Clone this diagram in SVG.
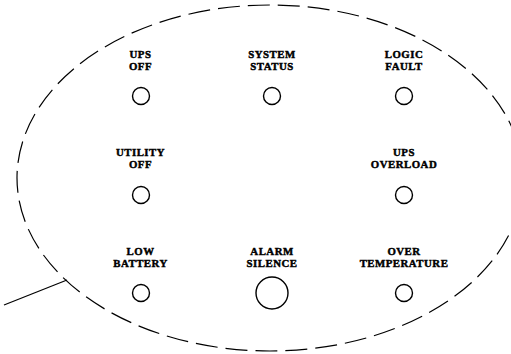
<svg xmlns="http://www.w3.org/2000/svg" width="511" height="354" viewBox="0 0 511 354">
<style>
.lbl{font-family:"Liberation Serif","Times New Roman",serif;font-weight:bold;font-size:10.8px;letter-spacing:0.5px;fill:#000;stroke:#000;stroke-width:0.45;text-anchor:middle}
.led{fill:none;stroke:#000;stroke-width:1.4}
.outline{fill:none;stroke:#000;stroke-width:1.2}
</style>
<rect width="511" height="354" fill="#fff"/>
<g id="connectors">
<ellipse class="outline" cx="270" cy="178" rx="253" ry="173" stroke-dasharray="22 8"/>
<line class="outline" x1="67" y1="280" x2="4" y2="305"/>
</g>
<g id="ups-off"><text class="lbl" x="140.5" y="57.5">UPS<tspan x="140.5" dy="12">OFF</tspan></text><circle class="led" cx="141" cy="96" r="8.5"/></g>
<g id="system-status"><text class="lbl" x="272" y="57.5">SYSTEM<tspan x="272" dy="12">STATUS</tspan></text><circle class="led" cx="272" cy="96" r="8.5"/></g>
<g id="logic-fault"><text class="lbl" x="404" y="57.5">LOGIC<tspan x="404" dy="12">FAULT</tspan></text><circle class="led" cx="404" cy="96" r="8.5"/></g>
<g id="utility-off"><text class="lbl" x="140.5" y="156">UTILITY<tspan x="140.5" dy="12">OFF</tspan></text><circle class="led" cx="141" cy="195" r="8.5"/></g>
<g id="ups-overload"><text class="lbl" x="404" y="156">UPS<tspan x="404" dy="12">OVERLOAD</tspan></text><circle class="led" cx="404" cy="195" r="8.5"/></g>
<g id="low-battery"><text class="lbl" x="140.5" y="254.5">LOW<tspan x="140.5" dy="12">BATTERY</tspan></text><circle class="led" cx="141" cy="293" r="8.5"/></g>
<g id="alarm-silence"><text class="lbl" x="272" y="254.5">ALARM<tspan x="272" dy="12">SILENCE</tspan></text><circle class="led" cx="272" cy="293" r="16"/></g>
<g id="over-temperature"><text class="lbl" x="404" y="254.5">OVER<tspan x="404" dy="12">TEMPERATURE</tspan></text><circle class="led" cx="404" cy="293" r="8.5"/></g>
</svg>
